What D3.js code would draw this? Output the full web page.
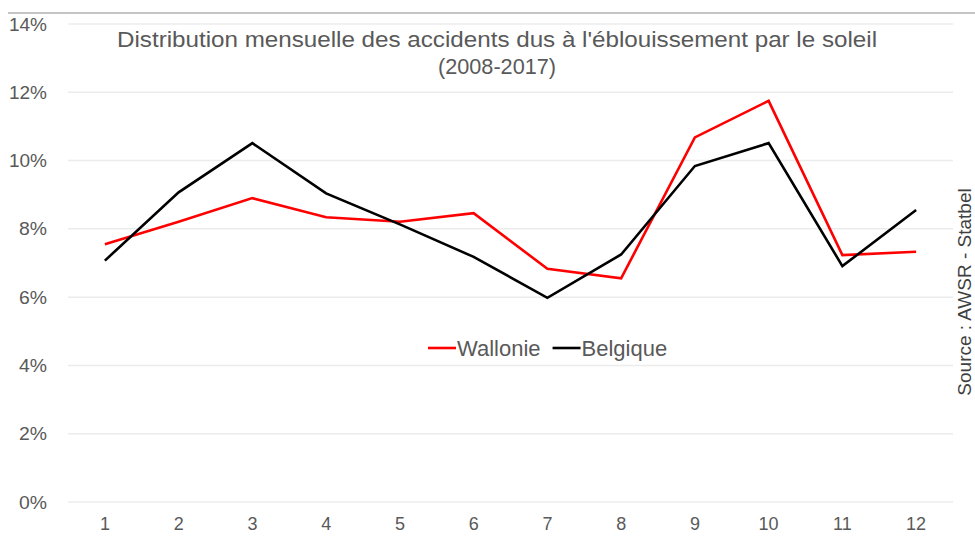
<!DOCTYPE html>
<html>
<head>
<meta charset="utf-8">
<script src="https://cdn.jsdelivr.net/npm/d3@7"></script>
<style>
  body { margin: 0; background: #fff; }
  svg { display: block; font-family: "Liberation Sans", Arial, sans-serif; }
  .grid line { stroke: #ececec; stroke-width: 1.5px; }
  .axis text { fill: #595959; }
</style>
</head>
<body>
<svg id="chart" width="975" height="536"></svg>
<script>
const months = ["1", "2", "3", "4", "5", "6", "7", "8", "9", "10", "11", "12"];
const wallonie = [7.55, 8.21, 8.90, 8.34, 8.21, 8.46, 6.83, 6.55, 10.68, 11.75, 7.23, 7.33];
const belgique = [7.07, 9.07, 10.51, 9.04, 8.13, 7.18, 5.98, 7.25, 9.84, 10.51, 6.91, 8.55];
const yTicks = [0, 2, 4, 6, 8, 10, 12, 14];

const series = [
  {name: "Wallonie", values: wallonie, color: "#ff0000"},
  {name: "Belgique", values: belgique, color: "#000000"}
];

const svg = d3.select("#chart");
const margin = {left: 68, right: 22, top: 24, bottom: 34};
const width = 975, height = 536;

const x = d3.scaleBand()
  .domain(months)
  .range([margin.left, width - margin.right]);

const y = d3.scaleLinear()
  .domain([0, 14])
  .range([height - margin.bottom, margin.top]);

// top border line
svg.append("line")
  .attr("x1", 8).attr("x2", width)
  .attr("y1", 13).attr("y2", 13)
  .attr("stroke", "#c4c4c4")
  .attr("stroke-width", 2);

// gridlines
svg.append("g")
  .attr("class", "grid")
  .selectAll("line")
  .data(yTicks)
  .join("line")
    .attr("x1", margin.left)
    .attr("x2", width - margin.right)
    .attr("y1", d => y(d))
    .attr("y2", d => y(d));

// y axis
const yAxis = svg.append("g")
  .attr("class", "axis")
  .attr("transform", `translate(${margin.left - 18},0)`)
  .call(d3.axisLeft(y).tickValues(yTicks).tickFormat(d => d + "%").tickSize(0));
yAxis.select(".domain").remove();
yAxis.selectAll("text")
  .attr("font-size", 19)
  .attr("textLength", d => d < 10 ? 28 : 38)
  .attr("lengthAdjust", "spacingAndGlyphs");

// x axis
const xAxis = svg.append("g")
  .attr("class", "axis")
  .attr("transform", `translate(0,${height - margin.bottom})`)
  .call(d3.axisBottom(x).tickSize(0).tickPadding(15));
xAxis.select(".domain").remove();
xAxis.selectAll("text").attr("font-size", 18);

// lines
const line = d3.line()
  .x((d, i) => x(months[i]) + x.bandwidth() / 2)
  .y(d => y(d));

svg.append("g")
  .selectAll("path")
  .data(series)
  .join("path")
    .attr("fill", "none")
    .attr("stroke", d => d.color)
    .attr("stroke-width", 2.6)
    .attr("stroke-linejoin", "miter")
    .attr("d", d => line(d.values));

// title
const title = svg.append("text")
  .attr("x", 497)
  .attr("y", 47)
  .attr("text-anchor", "middle")
  .attr("fill", "#595959")
  .attr("font-size", 22);
title.append("tspan")
  .attr("x", 497)
  .attr("textLength", 760)
  .attr("lengthAdjust", "spacingAndGlyphs")
  .text("Distribution mensuelle des accidents dus à l'éblouissement par le soleil");
title.append("tspan")
  .attr("x", 497)
  .attr("dy", 27)
  .attr("textLength", 118)
  .attr("lengthAdjust", "spacingAndGlyphs")
  .text("(2008-2017)");

// legend
const legend = svg.append("g")
  .attr("transform", "translate(428,348)");
let lx = 0;
series.forEach(s => {
  legend.append("line")
    .attr("x1", lx).attr("x2", lx + 28)
    .attr("y1", 0).attr("y2", 0)
    .attr("stroke", s.color)
    .attr("stroke-width", 2.6);
  const t = legend.append("text")
    .attr("x", lx + 29)
    .attr("y", 8)
    .attr("fill", "#595959")
    .attr("font-size", 22)
    .text(s.name);
  lx += 29 + t.node().getComputedTextLength() + 12;
});

// source
svg.append("text")
  .attr("transform", "translate(971,292) rotate(-90)")
  .attr("text-anchor", "middle")
  .attr("fill", "#404040")
  .attr("font-size", 19)
  .text("Source : AWSR - Statbel");
</script>
</body>
</html>
